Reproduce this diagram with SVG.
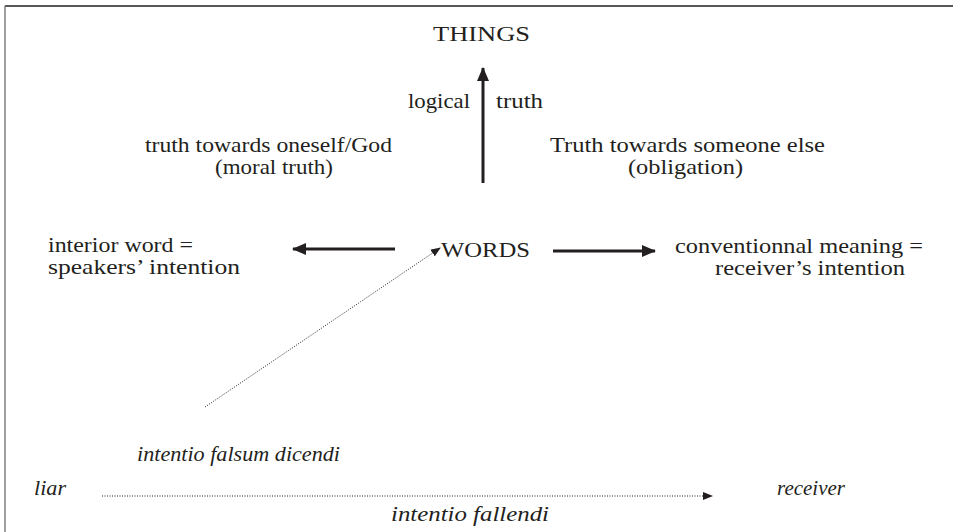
<svg xmlns="http://www.w3.org/2000/svg" width="953" height="532" viewBox="0 0 953 532">
<style>
text{font-family:'Liberation Serif','Times New Roman',serif;font-size:21px;fill:#231f20}
.it{font-style:italic}
.solid{stroke:#231f20;stroke-width:3;fill:none}
.dot{stroke:#231f20;stroke-width:1;stroke-dasharray:1 1.5;fill:none}
</style>
<defs>
<marker id="ah" markerWidth="10" markerHeight="8" refX="9" refY="4" orient="auto" markerUnits="userSpaceOnUse"><path d="M0,0 L10,4 L0,8 Z" fill="#231f20"/></marker>
<marker id="ahb" markerWidth="14" markerHeight="12" refX="13" refY="6" orient="auto" markerUnits="userSpaceOnUse"><path d="M0,0 L14,6 L0,12 Z" fill="#231f20"/></marker>
</defs>
<rect width="953" height="532" fill="#fff"/>
<g id="frame">
<line x1="5" y1="6" x2="953" y2="6" stroke="#231f20" stroke-width="1.5"/>
<line x1="5" y1="5.5" x2="5" y2="532" stroke="#808080" stroke-width="1.5"/>
</g>
<g id="things"><text x="433" y="41" textLength="97" lengthAdjust="spacingAndGlyphs">THINGS</text></g>
<g id="words"><text x="441" y="257" textLength="89" lengthAdjust="spacingAndGlyphs">WORDS</text></g>
<g id="logical-truth"><text x="408" y="108" textLength="62" lengthAdjust="spacingAndGlyphs">logical</text><text x="496" y="108" textLength="47" lengthAdjust="spacingAndGlyphs">truth</text></g>
<g id="moral"><text x="145" y="152" textLength="247" lengthAdjust="spacingAndGlyphs">truth towards oneself/God</text><text x="215" y="174" textLength="118" lengthAdjust="spacingAndGlyphs">(moral truth)</text></g>
<g id="obligation"><text x="550" y="152" textLength="275" lengthAdjust="spacingAndGlyphs">Truth towards someone else</text><text x="628" y="174" textLength="115" lengthAdjust="spacingAndGlyphs">(obligation)</text></g>
<g id="interior"><text x="48" y="252" textLength="145" lengthAdjust="spacingAndGlyphs">interior word =</text><text x="48" y="274" textLength="192" lengthAdjust="spacingAndGlyphs">speakers’ intention</text></g>
<g id="conventional"><text x="675" y="253" textLength="248" lengthAdjust="spacingAndGlyphs">conventionnal meaning =</text><text x="715" y="275" textLength="190" lengthAdjust="spacingAndGlyphs">receiver’s intention</text></g>
<g id="falsum"><text class="it" x="137" y="461" textLength="203" lengthAdjust="spacingAndGlyphs">intentio falsum dicendi</text></g>
<g id="liar"><text class="it" x="34" y="495" textLength="32" lengthAdjust="spacingAndGlyphs">liar</text></g>
<g id="receiver"><text class="it" x="777" y="495" textLength="68" lengthAdjust="spacingAndGlyphs">receiver</text></g>
<g id="fallendi"><text class="it" x="391" y="521" textLength="158" lengthAdjust="spacingAndGlyphs">intentio fallendi</text></g>
<g id="connectors">
<line class="solid" x1="483" y1="183" x2="483" y2="68" marker-end="url(#ahb)"/>
<line class="solid" x1="395" y1="249" x2="293" y2="249" marker-end="url(#ahb)"/>
<line class="solid" x1="553" y1="251" x2="655" y2="251" marker-end="url(#ahb)"/>
<line class="dot" x1="205" y1="407" x2="440" y2="248" marker-end="url(#ah)"/>
<line class="dot" x1="102" y1="496" x2="712" y2="496" marker-end="url(#ah)"/>
</g>
</svg>
